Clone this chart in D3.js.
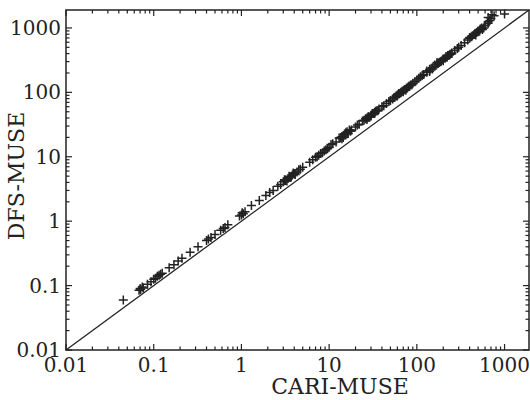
<!DOCTYPE html>
<html>
<head>
<meta charset="utf-8">
<script src="https://cdn.jsdelivr.net/npm/d3@7"></script>
<style>
  body { margin: 0; background: #fff; }
  svg text { font-family: "DejaVu Serif", serif; fill: #222; }
</style>
</head>
<body>
<svg id="chart"></svg>
<script>
// CARI-MUSE (x) vs DFS-MUSE (y)
const cariMuse = [
  0.045, 0.068, 0.07, 0.071, 0.074, 0.076, 0.085, 0.093,
  0.1, 0.105, 0.11, 0.115, 0.12, 0.125, 0.15, 0.17, 0.19, 0.21, 0.26, 0.32, 0.4, 0.42, 0.45, 0.5, 0.58, 0.62, 0.65, 0.7,
  0.95, 1.0, 1.02, 1.05, 1.1, 1.3, 1.6, 1.9, 2.1, 2.3, 2.6, 2.8, 3.0, 3.2, 3.4, 3.6, 3.8, 4.0, 4.3, 5.0, 6.0, 6.5, 7.0, 7.3, 7.6, 8.0, 8.4, 8.8, 9.2, 9.6,
  10, 10.5, 11, 12, 13, 14, 15, 16, 18, 20, 21, 22, 24, 25, 27, 28, 30, 32, 33, 35, 37, 40, 42, 45, 48, 50, 53, 56, 58, 60, 63, 66, 70, 73, 76, 80, 85, 90, 95,
  100, 105, 110, 115, 120, 130, 140, 150, 160, 170, 180, 190, 200, 210, 220, 230, 240, 250, 270, 290, 300, 320, 350, 380, 400, 420, 450, 480, 500, 550, 600, 650, 700,
  650, 720, 760, 1000,
  3.1, 3.3, 3.5, 3.7, 3.9, 4.1, 4.5, 4.7,
  13.5, 14.5, 15.5, 16.5, 17, 17.5, 14, 15, 16,
  26, 28, 29, 31, 33, 34, 36, 30, 27,
  55, 60, 65, 68, 72, 75, 78, 82, 88, 62, 70,
  130, 140, 150, 160, 175, 185, 200, 215, 235, 250, 140, 170, 200, 225,
  400, 430, 460, 500, 530, 560, 600, 650, 470, 520, 580, 680
];
const dfsMuse = [
  0.06, 0.085, 0.09, 0.087, 0.095, 0.092, 0.105, 0.115,
  0.125, 0.13, 0.14, 0.145, 0.15, 0.155, 0.19, 0.21, 0.24, 0.265, 0.33, 0.4, 0.5, 0.53, 0.56, 0.62, 0.72, 0.77, 0.8, 0.88,
  1.2, 1.25, 1.35, 1.3, 1.4, 1.75, 2.1, 2.5, 2.8, 3.0, 3.5, 3.7, 4.1, 4.3, 4.6, 4.8, 5.2, 5.4, 5.8, 6.9, 8.2, 9.0, 9.8, 10.0, 10.6, 11.2, 11.5, 12.3, 12.8, 13.3,
  14, 15.5, 16, 17, 19.5, 20.5, 22, 23, 26, 29, 31, 32, 36, 37, 40, 41, 44, 47, 49, 52, 55, 60, 62, 67, 72, 75, 79, 83, 88, 91, 95, 100, 106, 111, 116, 122, 130, 138, 146,
  155, 165, 175, 182, 190, 205, 222, 240, 255, 275, 290, 305, 325, 340, 355, 372, 390, 410, 445, 480, 500, 535, 590, 650, 690, 730, 790, 850, 900, 1000, 1100, 1250, 1400,
  1450, 1600, 1550, 1650,
  4.4, 4.2, 5.0, 4.9, 5.6, 5.3, 6.3, 6.4,
  20, 20, 23.5, 23, 26, 25, 19, 22.5, 24.5,
  39, 42, 41, 47, 47, 51, 52, 43, 38,
  83, 88, 98, 104, 110, 108, 118, 125, 131, 96, 102,
  215, 228, 230, 265, 280, 300, 330, 360, 380, 400, 210, 290, 310, 375,
  710, 760, 820, 870, 960, 950, 1080, 1180, 780, 930, 1000, 1300
];
const tickValues = [0.01, 0.1, 1, 10, 100, 1000];
const tickLabels = ["0.01", "0.1", "1", "10", "100", "1000"];
const domainMin = 0.01, domainMax = 1900;

const width = 530, height = 400;
const margin = {top: 10, right: 1, bottom: 50, left: 66};

const svg = d3.select('#chart')
  .attr('width', width)
  .attr('height', height);

const x = d3.scaleLog()
  .domain([domainMin, domainMax])
  .range([margin.left, width - margin.right]);

const y = d3.scaleLog()
  .domain([domainMin, domainMax])
  .range([height - margin.bottom, margin.top]);

const x0 = x.range()[0], x1 = x.range()[1];
const y0 = y.range()[0], y1 = y.range()[1];

// minor ticks 2..9 per decade
const minor = [];
for (let e = -2; e <= 3; e++) {
  for (let m = 2; m <= 9; m++) {
    const v = m * Math.pow(10, e);
    if (v < domainMax) minor.push(v);
  }
}

const major = 6, minorLen = 3.5;
const ticks = svg.append('g').attr('stroke', '#222').attr('stroke-width', 1.2);

// inward ticks on all four sides
[[tickValues, major], [minor, minorLen]].forEach(([vals, len]) => {
  ticks.selectAll(null).data(vals).join('line')
    .attr('x1', d => x(d)).attr('x2', d => x(d))
    .attr('y1', y0).attr('y2', y0 - len);
  ticks.selectAll(null).data(vals).join('line')
    .attr('x1', d => x(d)).attr('x2', d => x(d))
    .attr('y1', y1).attr('y2', y1 + len);
  ticks.selectAll(null).data(vals).join('line')
    .attr('y1', d => y(d)).attr('y2', d => y(d))
    .attr('x1', x0).attr('x2', x0 + len);
  ticks.selectAll(null).data(vals).join('line')
    .attr('y1', d => y(d)).attr('y2', d => y(d))
    .attr('x1', x1).attr('x2', x1 - len);
});

// frame
svg.append('rect')
  .attr('x', x0).attr('y', y1)
  .attr('width', x1 - x0).attr('height', y0 - y1)
  .attr('fill', 'none').attr('stroke', '#222').attr('stroke-width', 1.5);

// y = x line
svg.append('line')
  .attr('x1', x(domainMin)).attr('y1', y(domainMin))
  .attr('x2', x(domainMax)).attr('y2', y(domainMax))
  .attr('stroke', '#222').attr('stroke-width', 1.3);

// markers (+)
const pts = cariMuse.map((c, i) => [c, dfsMuse[i]]);
const s = 4.5;
svg.append('g')
  .attr('stroke', '#222').attr('stroke-width', 1.5)
  .selectAll('path')
  .data(pts)
  .join('path')
    .attr('d', d => {
      const px = x(d[0]), py = y(d[1]);
      return `M${px - s},${py}H${px + s}M${px},${py - s}V${py + s}`;
    });

// tick labels
svg.append('g').selectAll('text')
  .data(tickValues)
  .join('text')
    .attr('x', d => x(d))
    .attr('y', y0 + 22)
    .attr('text-anchor', 'middle')
    .style('font-size', '20px')
    .text((d, i) => tickLabels[i]);

svg.append('g').selectAll('text')
  .data(tickValues)
  .join('text')
    .attr('x', x0 - 5)
    .attr('y', d => y(d) + 7)
    .attr('text-anchor', 'end')
    .style('font-size', '20px')
    .text((d, i) => tickLabels[i]);

// axis titles
svg.append('text')
  .attr('x', 340).attr('y', 394)
  .attr('text-anchor', 'middle')
  .style('font-size', '22px')
  .text('CARI-MUSE');

svg.append('text')
  .attr('transform', 'translate(24,176) rotate(-90)')
  .attr('text-anchor', 'middle')
  .style('font-size', '22px')
  .text('DFS-MUSE');
</script>
</body>
</html>
